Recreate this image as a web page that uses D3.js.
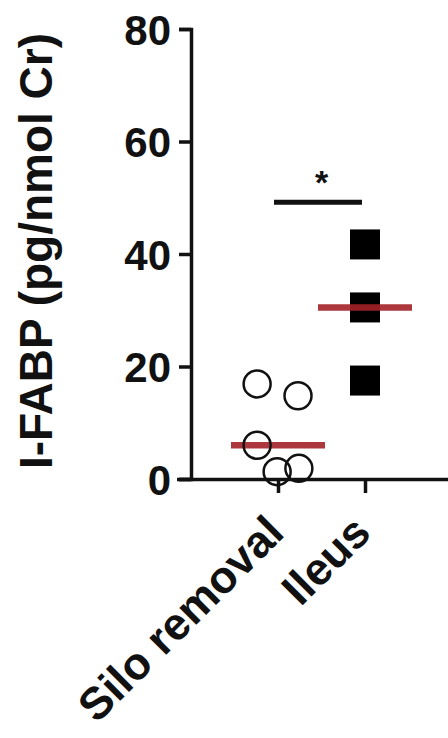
<!DOCTYPE html>
<html>
<head>
<meta charset="utf-8">
<script src="https://cdn.jsdelivr.net/npm/d3@7"></script>
<style>
  body { margin: 0; background: #fff; }
  text { font-family: "Liberation Sans", Arial, sans-serif; font-weight: bold; fill: #111; }
</style>
</head>
<body>
<script>
// groups on the x axis
var groups = ["Silo removal", "Ileus"];

// I-FABP values
var siloValues = [16.9, 14.8, 6.0, 1.3, 1.9];
var ileusValues = [41.7, 30.5, 17.5];

// horizontal scatter of the dots, in fractions of the gap between groups
var siloSpread = [-0.24, 0.23, -0.24, -0.01, 0.24];
var ileusSpread = [0, 0, 0];

// y axis ticks
var yTicks = [0, 20, 40, 60, 80];

// significance bracket
var sigLevel = 49.2;
var sigLabel = "*";

window.onload = function(){

    var w = 448, h = 738;

    var svg = d3.select("body")
        .append("svg")
        .attr("width", w)
        .attr("height", h)
        .style("background-color", "#fff");

    //scales
    var y = d3.scaleLinear()
        .domain([0, 80])
        .range([479, 29]);

    var x = d3.scalePoint()
        .domain(groups)
        .range([278, 365]);

    var gap = x.step();

    //y axis
    var yAxis = d3.axisLeft(y)
        .tickValues(yTicks)
        .tickSize(12)
        .tickPadding(8);

    var yG = svg.append("g")
        .attr("transform", "translate(191,0)")
        .call(yAxis);
    yG.select(".domain").attr("stroke", "#111").attr("stroke-width", 3.5);
    yG.selectAll(".tick line").attr("stroke", "#111").attr("stroke-width", 3.5);
    yG.selectAll(".tick text")
        .style("font-size", "42px")
        .attr("dy", "0.36em");

    //x axis
    var xAxis = d3.axisBottom(x)
        .tickSize(14)
        .tickSizeOuter(0)
        .tickFormat("");

    var xG = svg.append("g")
        .attr("transform", "translate(0,479)")
        .call(xAxis);
    xG.select(".domain")
        .attr("d", "M177,0.5H" + w)
        .attr("stroke", "#111").attr("stroke-width", 3.5);
    xG.selectAll(".tick line").attr("stroke", "#111").attr("stroke-width", 3.5);

    //rotated group labels
    svg.selectAll(".xlabel")
        .data(groups)
        .enter()
        .append("text")
        .attr("class", "xlabel")
        .attr("text-anchor", "end")
        .style("font-size", "45px")
        .attr("transform", function(d){
            return "translate(" + (x(d) + 8) + ",535) rotate(-45)";
        })
        .text(function(d){ return d; });

    //y title
    svg.append("text")
        .attr("text-anchor", "middle")
        .style("font-size", "46px")
        .attr("transform", "translate(52,251) rotate(-90)")
        .text("I-FABP (pg/nmol Cr)");

    //squares for ileus
    var sq = 30;
    svg.selectAll(".sq")
        .data(ileusValues)
        .enter()
        .append("rect")
        .attr("class", "sq")
        .attr("x", function(d, i){ return x("Ileus") + ileusSpread[i] * gap - sq / 2; })
        .attr("y", function(d){ return y(d) - sq / 2; })
        .attr("width", sq)
        .attr("height", sq)
        .style("fill", "#000");

    //median lines
    var medians = [
        { group: "Silo removal", value: d3.median(siloValues) },
        { group: "Ileus", value: d3.median(ileusValues) }
    ];
    svg.selectAll(".median")
        .data(medians)
        .enter()
        .append("line")
        .attr("class", "median")
        .attr("x1", function(d){ return x(d.group) - 47; })
        .attr("x2", function(d){ return x(d.group) + 47; })
        .attr("y1", function(d){ return y(d.value); })
        .attr("y2", function(d){ return y(d.value); })
        .style("stroke", "#a32127")
        .style("stroke-opacity", 0.9)
        .style("stroke-width", 6.5);

    //open circles for silo removal
    svg.selectAll(".dot")
        .data(siloValues)
        .enter()
        .append("circle")
        .attr("class", "dot")
        .attr("cx", function(d, i){ return x("Silo removal") + siloSpread[i] * gap; })
        .attr("cy", function(d){ return y(d); })
        .attr("r", 13.5)
        .style("fill", "none")
        .style("stroke", "#111")
        .style("stroke-width", 2.5);

    //significance bracket
    svg.append("line")
        .attr("x1", x(groups[0]) - 4)
        .attr("x2", x(groups[1]) - 3)
        .attr("y1", y(sigLevel))
        .attr("y2", y(sigLevel))
        .style("stroke", "#111")
        .style("stroke-width", 5);

    svg.append("text")
        .attr("text-anchor", "middle")
        .attr("x", (x(groups[0]) + x(groups[1])) / 2)
        .attr("y", y(sigLevel) - 8)
        .style("font-size", "34px")
        .text(sigLabel);
};
</script>
</body>
</html>
